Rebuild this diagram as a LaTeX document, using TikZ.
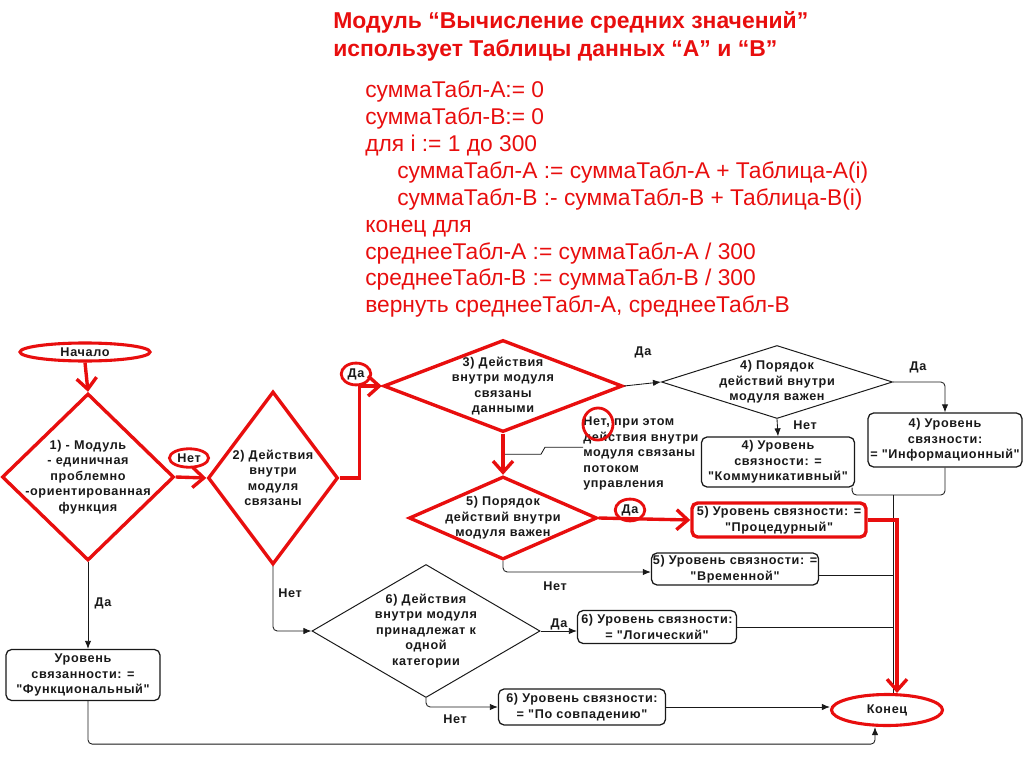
\documentclass[tikz,border=0pt]{standalone}
\usepackage{fontspec}
\setmainfont{Liberation Sans}[Ligatures=TeXOff]
\newfontfamily\chartfont{Liberation Sans}[LetterSpace=5, Ligatures=TeXOff]
\usetikzlibrary{positioning, arrows.meta, shapes.geometric, calc}
\definecolor{MarkRed}{RGB}{232,14,14}
\definecolor{InkBlack}{RGB}{25,25,25}

\tikzset{
  chart/.style={font=\chartfont\fontsize{9}{11}\selectfont\bfseries, text=InkBlack},
  dec/.style={diamond, draw=InkBlack, line width=0.7pt, inner sep=0pt},
  hotdec/.style={diamond, draw=MarkRed, line width=2.4pt, inner sep=0pt},
  dtext/.style={chart, align=center, inner sep=0pt},
  res/.style={chart, rectangle, rounded corners=4pt, draw=InkBlack, line width=0.9pt, align=center, inner sep=1pt},
  hotres/.style={res, draw=MarkRed, line width=2.4pt},
  term/.style={chart, ellipse, draw=MarkRed, line width=2.2pt, inner sep=0pt},
  lbl/.style={chart, inner sep=1pt},
  ring/.style={chart, ellipse, draw=MarkRed, line width=2pt, inner sep=1.5pt},
  link/.style={draw=InkBlack, line width=0.6pt, rounded corners=3pt, -{Latex[length=2mm, width=1.6mm]}},
  wire/.style={draw=InkBlack, line width=0.6pt, rounded corners=3pt},
  hotlink/.style={draw=MarkRed, line width=2.4pt, -{Straight Barb[length=2.8mm, width=5mm]}},
}

\begin{document}
\begin{tikzpicture}[x=0.025cm, y=-0.025cm]
\useasboundingbox (0,0) rectangle (1024,767);

% heading and pseudo-code
\node[anchor=north west, align=left, inner sep=0pt, text=MarkRed,
  font=\fontsize{16.3}{20}\selectfont\bfseries] (title) at (333,11)
  {Модуль “Вычисление средних значений”\\использует Таблицы данных “A” и “B”};
\node[anchor=north west, align=left, inner sep=0pt, text=MarkRed,
  font=\fontsize{16.2}{19.1}\selectfont] (algo) at (365,81)
  {суммаТабл-А:= 0\\
   суммаТабл-В:= 0\\
   для i := 1 до 300\\
   \hspace*{0.8cm}суммаТабл-А := суммаТабл-А + Таблица-А(i)\\
   \hspace*{0.8cm}суммаТабл-В :- суммаТабл-В + Таблица-В(i)\\
   конец для\\
   среднееТабл-А := суммаТабл-А / 300\\
   среднееТабл-В := суммаТабл-В / 300\\
   вернуть среднееТабл-А, среднееТабл-В};

% terminals
\node[term, minimum width=3.25cm, minimum height=0.45cm] (start) at (85,352) {Начало};
\node[term, minimum width=2.775cm, minimum height=0.775cm] (end) at (887,710) {Конец};

% decisions
\node[hotdec, minimum width=4.3cm, minimum height=4.175cm] (d1) at (88,477) {};
\node[dtext] (d1t) at (d1) {1) - Модуль\\- единичная\\проблемно\\-ориентированная\\функция};
\node[hotdec, minimum width=3.25cm, minimum height=4.325cm] (d2) at (273,478) {};
\node[dtext] (d2t) at (d2) {2) Действия\\внутри\\модуля\\связаны};
\node[hotdec, minimum width=5.975cm, minimum height=2.3cm] (d3) at (503,386) {};
\node[dtext] (d3t) at (d3) {3) Действия\\внутри модуля\\связаны\\данными};
\node[dec, minimum width=5.775cm, minimum height=1.825cm] (d4) at (777,382) {};
\node[dtext] (d4t) at (d4) {4) Порядок\\действий внутри\\модуля важен};
\node[hotdec, minimum width=4.7cm, minimum height=2.075cm] (d5) at (503,518) {};
\node[dtext] (d5t) at (d5) {5) Порядок\\действий внутри\\модуля важен};
\node[dec, minimum width=5.7cm, minimum height=3.325cm] (d6) at (426,631) {};
\node[dtext] (d6t) at (d6) {6) Действия\\внутри модуля\\принадлежат к\\одной\\категории};

% results
\node[res, minimum width=3.85cm, minimum height=1.35cm] (r4b) at (945,440) {4) Уровень\\связности:\\= "Информационный"};
\node[res, minimum width=3.825cm, minimum height=1.25cm] (r4a) at (778,462) {4) Уровень\\связности: =\\"Коммуникативный"};
\node[hotres, minimum width=4.35cm, minimum height=0.85cm] (r5a) at (779,520) {5) Уровень связности: =\\"Процедурный"};
\node[res, minimum width=4.15cm, minimum height=0.8cm] (r5b) at (735,569) {5) Уровень связности: =\\"Временной"};
\node[res, minimum width=3.975cm, minimum height=0.825cm] (r6a) at (657,627) {6) Уровень связности:\\= "Логический"};
\node[res, minimum width=4.175cm, minimum height=0.9cm] (r6b) at (582,707) {6) Уровень связности:\\= "По совпадению"};
\node[res, minimum width=3.85cm, minimum height=1.275cm] (rf) at (83,675) {Уровень\\связанности: =\\"Функциональный"};

% branch labels
\node[lbl] (y34) at (643,352) {Да};
\node[lbl] (y4) at (918,367) {Да};
\node[lbl] (n4) at (805,425) {Нет};
\node[lbl] (n5) at (555,586) {Нет};
\node[lbl] (n2) at (290,593) {Нет};
\node[lbl] (y6) at (559,624) {Да};
\node[lbl] (n6) at (455,719) {Нет};
\node[lbl] (y1) at (103,603) {Да};
\node[ring] (n1) at (189,458) {Нет};
\node[ring] (y2) at (356,374) {Да};
\node[ring] (y5) at (630,510) {Да};
\node[chart, anchor=north west, align=left, inner sep=0pt] (note) at (583,417)
  {Нет, при этом\\действия внутри\\модуля связаны\\потоком\\управления};
\node[ring, minimum width=0.75cm, minimum height=0.8cm] (notering) at (598,424) {};

% black connectors
\coordinate (bus) at (893,495);
\draw[link] (d3.east) -- (d4.west);
\draw[link] (d4.east) -| (r4b.north);
\draw[link] (d4.south) -- (r4a.north);
\draw[wire] ([xshift=-0.075cm]r4a.south east) |- (bus);
\draw[wire] (r4b.south) |- (bus);
\draw[wire] (bus) -- (bus |- end.north);
\draw[link] (d5.south) |- ([yshift=-0.075cm]r5b.west);
\draw[wire] ([yshift=-0.15cm]r5b.east) -- ([yshift=-0.15cm]r5b.east -| bus);
\draw[link] (d2.south) |- (d6.west);
\draw[link] (d6.east) -- (d6.east -| r6a.west);
\draw[wire] (r6a.east) -- (r6a.east -| bus);
\draw[link] (d6.south) |- (r6b.west);
\draw[link] (r6b.east) -- (r6b.east -| end.west);
\draw[link] (d1.south) -- (d1.south |- rf.north);
\draw[link] (d1.south |- rf.south) -- ++(0,43) -| ([xshift=-0.3cm]end.south);
\coordinate (tap) at ($(d3.south)!0.5!(d5.north)$);
\draw[wire, rounded corners=0pt] (tap) -- ++(38,0) -- ++(4,-7) -- ++(38,0);

% red path
\draw[hotlink] (start.south) -- (d1.north);
\draw[hotlink] (d1.east) -- (d2.west);
\draw[hotlink] (d2.east) -- ++(20,0) |- (d3.west);
\draw[hotlink] (d3.south) -- (d5.north);
\draw[hotlink] (d5.east) -- (r5a.west);
\draw[hotlink] (r5a.east) -| ([xshift=0.25cm]end.north);
\end{tikzpicture}
\end{document}
